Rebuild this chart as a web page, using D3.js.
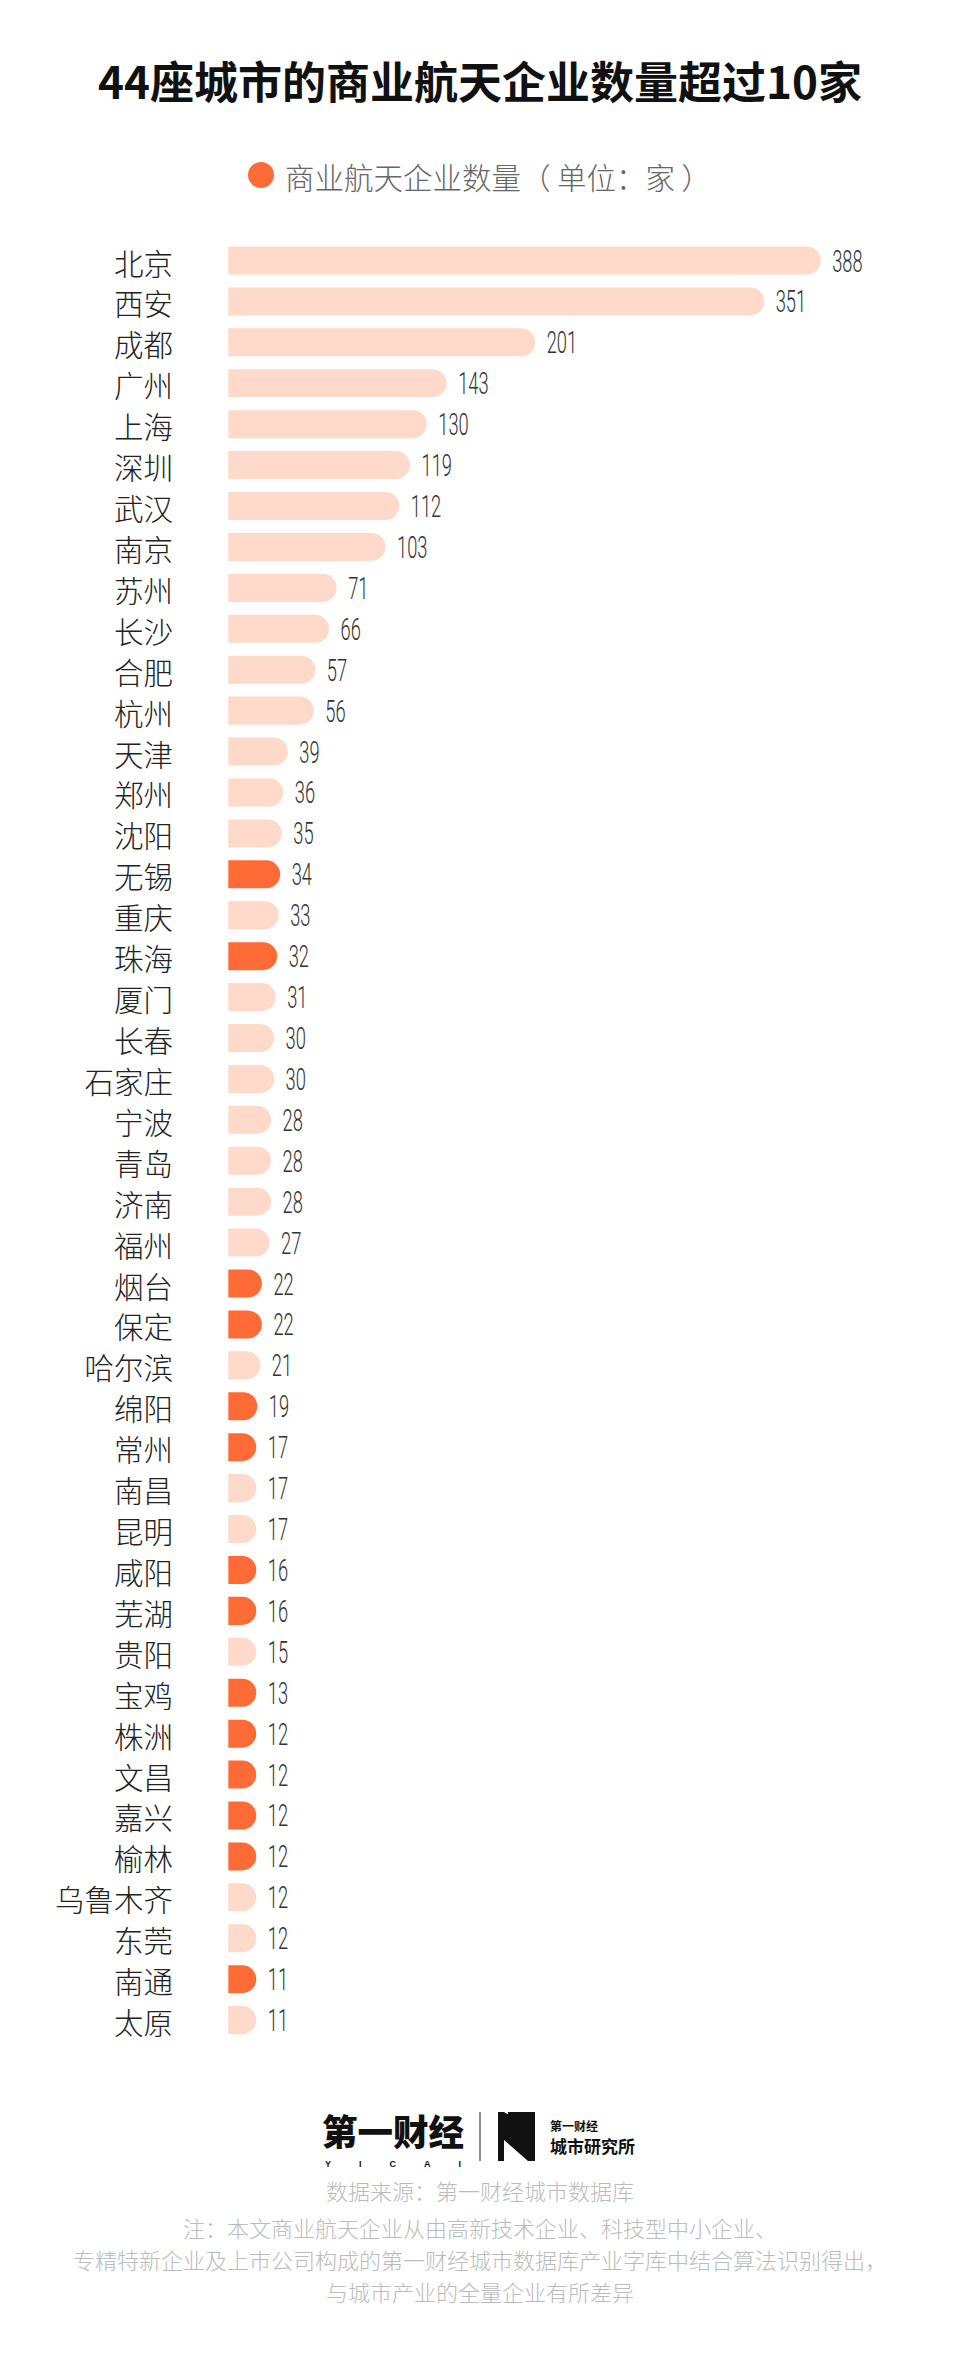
<!DOCTYPE html>
<html>
<head>
<meta charset="utf-8">
<script src="https://cdn.jsdelivr.net/npm/d3@7/dist/d3.min.js"></script>
<style>
  html, body { margin: 0; padding: 0; background: #fff; }
  svg { display: block; }
</style>
</head>
<body>
<svg id="chart" width="960" height="2364"></svg>
<script>
// ---- data ----
const titleText = "44座城市的商业航天企业数量超过10家";
const legendText = "商业航天企业数量（ 单位：家 ）";
const cities = ["北京","西安","成都","广州","上海","深圳","武汉","南京","苏州","长沙","合肥","杭州","天津","郑州","沈阳","无锡","重庆","珠海","厦门","长春","石家庄","宁波","青岛","济南","福州","烟台","保定","哈尔滨","绵阳","常州","南昌","昆明","咸阳","芜湖","贵阳","宝鸡","株洲","文昌","嘉兴","榆林","乌鲁木齐","东莞","南通","太原"];
const values = [388,351,201,143,130,119,112,103,71,66,57,56,39,36,35,34,33,32,31,30,30,28,28,28,27,22,22,21,19,17,17,17,16,16,15,13,12,12,12,12,12,12,11,11];
const highlighted = ["无锡","珠海","烟台","保定","绵阳","常州","咸阳","芜湖","宝鸡","株洲","文昌","嘉兴","榆林","南通"];
const sourceText = "数据来源：第一财经城市数据库";
const noteLines = [
  "注：本文商业航天企业从由高新技术企业、科技型中小企业、",
  "专精特新企业及上市公司构成的第一财经城市数据库产业字库中结合算法识别得出，",
  "与城市产业的全量企业有所差异"
];

// ---- styles ----
const COLOR_HI = "#ff6b36";
const COLOR_LO = "#ffd9ca";
const CJK = "'Noto Sans CJK SC', 'Noto Sans', sans-serif";

const svg = d3.select("#chart");

// title
svg.append("text")
  .attr("x", 480).attr("y", 80)
  .attr("text-anchor", "middle")
  .attr("dominant-baseline", "central")
  .attr("font-family", CJK).attr("font-weight", 700)
  .attr("font-size", 44).attr("fill", "#111")
  .text(titleText);

// legend
svg.append("circle").attr("cx", 261).attr("cy", 175).attr("r", 13).attr("fill", COLOR_HI);
svg.append("text")
  .attr("x", 285).attr("y", 176)
  .attr("dominant-baseline", "central")
  .attr("font-family", CJK).attr("font-weight", 300)
  .attr("font-size", 29.5).attr("fill", "#666")
  .text(legendText);

// scales
const x = d3.scaleLinear().domain([0, 388]).range([228.3, 820.7]);
const y = d3.scaleBand().domain(cities).range([233.6, 2047]).padding(0.315);
const bh = y.bandwidth();

function barPath(w, h) {
  // square left edge, rounded right end (radius = h/2), minimum width = h
  const ww = Math.max(w, h);
  const rr = h / 2;
  return `M0,0 H${ww - rr} A${rr},${rr} 0 0 1 ${ww - rr},${h} H0 Z`;
}

const rows = svg.append("g").selectAll("g")
  .data(cities.map((c, i) => ({ city: c, value: values[i] })))
  .join("g")
  .attr("transform", d => `translate(0,${y(d.city)})`);

rows.append("path")
  .attr("transform", `translate(${x(0)},0)`)
  .attr("d", d => barPath(x(d.value) - x(0), bh))
  .attr("fill", d => highlighted.includes(d.city) ? COLOR_HI : COLOR_LO);

rows.append("text")
  .attr("x", 173).attr("y", bh / 2 + 1)
  .attr("text-anchor", "end")
  .attr("dominant-baseline", "central")
  .attr("font-family", CJK).attr("font-weight", 300)
  .attr("font-size", 29.5).attr("fill", "#222")
  .text(d => d.city);

rows.append("text")
  .attr("transform", d => `translate(${x(0) + Math.max(x(d.value) - x(0), bh) + 11.5},${bh / 2 + 11}) scale(0.6,1)`)
  .attr("font-family", "Roboto, 'Liberation Sans', sans-serif").attr("font-weight", 300)
  .attr("font-size", 30.5).attr("fill", "#333")
  .text(d => d.value);

// logo
const logo = svg.append("g");
logo.append("text")
  .attr("x", 322).attr("y", 2146)
  .attr("font-family", CJK).attr("font-weight", 900)
  .attr("font-size", 36).attr("fill", "#111")
  .attr("textLength", 142).attr("lengthAdjust", "spacingAndGlyphs")
  .text("第一财经");
logo.append("text")
  .attr("x", 325).attr("y", 2167)
  .attr("font-family", "'Liberation Sans', sans-serif").attr("font-weight", 700)
  .attr("font-size", 9).attr("fill", "#111")
  .attr("textLength", 136).attr("lengthAdjust", "spacing")
  .text("YICAI");
logo.append("line").attr("x1", 480).attr("x2", 480).attr("y1", 2112).attr("y2", 2161)
  .attr("stroke", "#444").attr("stroke-width", 1.2);
logo.append("polygon")
  .attr("points", "498,2112 504,2112 535,2130 535,2112 535,2161 528,2161 504,2140 504,2161 498,2161")
  .attr("fill", "#111");
logo.append("polygon")
  .attr("points", "508,2112 535,2112 535,2161 508,2140")
  .attr("fill", "#111");
logo.append("text")
  .attr("x", 550).attr("y", 2131)
  .attr("font-family", CJK).attr("font-weight", 700)
  .attr("font-size", 12).attr("fill", "#111")
  .text("第一财经");
logo.append("text")
  .attr("x", 550).attr("y", 2153)
  .attr("font-family", CJK).attr("font-weight", 700)
  .attr("font-size", 17).attr("fill", "#111")
  .text("城市研究所");

// source & notes
svg.append("text")
  .attr("x", 480).attr("y", 2190)
  .attr("text-anchor", "middle").attr("dominant-baseline", "central")
  .attr("font-family", CJK).attr("font-weight", 300)
  .attr("font-size", 22).attr("fill", "#bbb")
  .text(sourceText);

svg.append("g").selectAll("text")
  .data(noteLines)
  .join("text")
  .attr("x", 480).attr("y", (d, i) => 2227 + i * 32)
  .attr("text-anchor", "middle").attr("dominant-baseline", "central")
  .attr("font-family", CJK).attr("font-weight", 300)
  .attr("font-size", 22).attr("fill", "#bbb")
  .text(d => d);
</script>
</body>
</html>
